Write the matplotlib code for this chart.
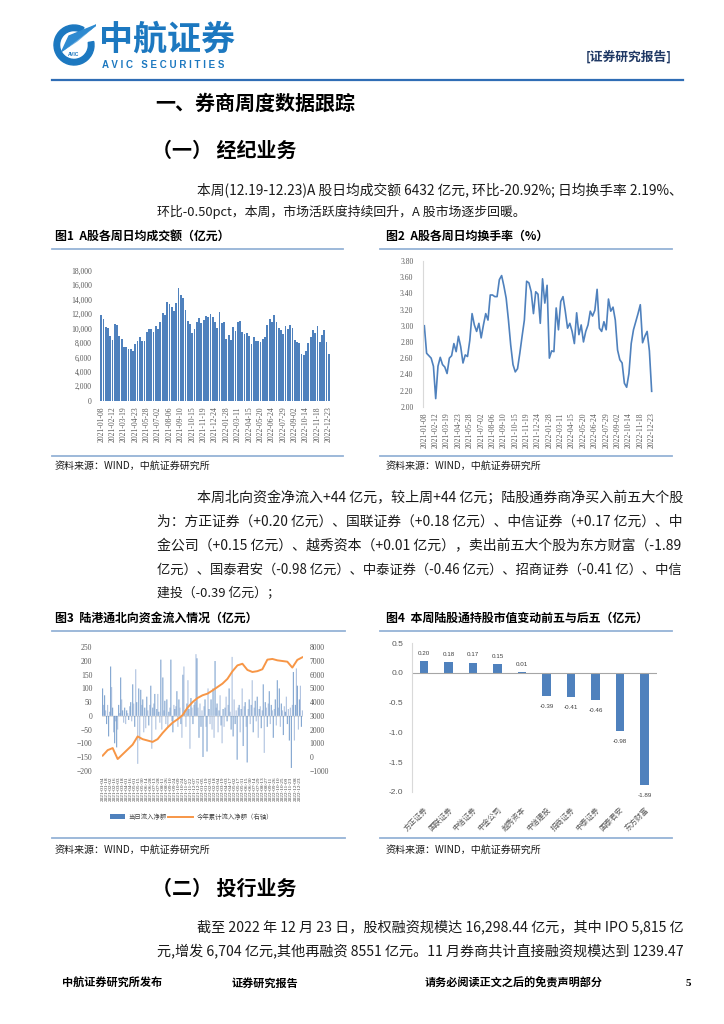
import matplotlib
matplotlib.use('Agg')
import matplotlib.pyplot as plt
import numpy as np
import pandas as pd
from matplotlib.lines import Line2D
from matplotlib.patches import Wedge, Polygon, Rectangle

W, H = 724, 1024
CJK = ['Noto Sans CJK SC', 'DejaVu Sans']
SERIF = ['Liberation Serif', 'DejaVu Serif']
SANS = ['Liberation Sans', 'DejaVu Sans']

# ---- data -------------------------------------------------------------
week_ticks = ['2021-01-08', '2021-02-12', '2021-03-19', '2021-04-23', '2021-05-28',
              '2021-07-02', '2021-08-06', '2021-09-10', '2021-10-15', '2021-11-19',
              '2021-12-24', '2022-01-28', '2022-03-11', '2022-04-15', '2022-05-20',
              '2022-06-24', '2022-07-29', '2022-09-02', '2022-10-14', '2022-11-18',
              '2022-12-23']

# fig 1: weekly average daily turnover (100m yuan)
turnover_amt = [11870, 11360, 10250, 10030, 8960, 8360, 10620, 10440, 9000, 8540,
                7440, 7440, 7120, 7200, 6880, 7900, 8270, 8780, 8310, 8310,
                9510, 9930, 9860, 9560, 10350, 9930, 10900, 12150, 11870, 13670,
                13440, 12980, 12420, 13490, 15570, 14600, 14220, 12560, 11080, 10620,
                9420, 9930, 10900, 11410, 10720, 11140, 11770, 11550, 12010, 11550,
                10860, 10070, 12290, 10720, 10940, 8500, 9060, 8410, 10170, 9650,
                10900, 11080, 9510, 9240, 9330, 8960, 7850, 8780, 8270, 8310,
                8090, 8500, 8780, 10480, 11270, 10900, 11870, 10900, 10030, 9790,
                9190, 10300, 9860, 10480, 10030, 8410, 8090, 7950, 6430, 6290,
                6880, 7950, 8820, 9750, 9420, 10350, 8130, 9100, 9790, 8133,
                6432]

# fig 2: weekly average daily turnover rate (%)
turnover_rate = [3.00, 2.66, 2.63, 2.60, 2.50, 2.10, 2.50, 2.61, 2.52, 2.49,
                 2.41, 2.60, 2.63, 2.78, 2.68, 2.87, 2.74, 2.54, 2.64, 2.62,
                 2.82, 3.15, 3.01, 2.93, 3.03, 2.85, 3.01, 3.15, 3.07, 3.38,
                 3.38, 3.36, 3.36, 3.57, 3.62, 3.49, 3.34, 3.07, 2.76, 2.52,
                 2.43, 2.47, 2.66, 2.87, 3.07, 3.55, 3.53, 3.42, 3.15, 3.42,
                 3.39, 3.03, 3.58, 3.28, 3.50, 2.60, 2.69, 2.68, 3.22, 2.95,
                 3.30, 3.36, 3.18, 2.97, 3.03, 2.93, 2.78, 3.16, 2.89, 3.01,
                 2.80, 2.93, 3.01, 3.18, 3.12, 3.19, 3.45, 2.97, 2.93, 3.05,
                 2.95, 3.33, 3.18, 3.23, 3.07, 2.70, 2.58, 2.54, 2.29, 2.24,
                 2.41, 2.78, 2.95, 3.05, 3.15, 3.26, 2.79, 2.87, 2.93, 2.69,
                 2.19]

# fig 3: northbound net inflow (left) and cumulative inflow (right)
flow_daily = [100, 40, 75, 20, -30, 40, -75, 15, 180, 105,
              30, -60, -100, -20, -115, -50, 40, 10, 140, 60,
              20, -25, 30, -30, 20, 10, -15, 35, 50, -20,
              115, 45, -40, 170, 50, -175, 100, -90, 95, 40,
              60, -60, 30, -45, 70, 20, -35, 40, 110, -120,
              30, 45, 80, -50, 25, 80, 15, -25, 205, -50,
              140, 20, 55, -30, 60, -40, 15, 30, 205, -20,
              -60, 40, 25, 35, 90, -40, 60, 30, -30, -80,
              150, 180, 20, -40, 45, 130, 25, -120, 65, 30,
              -30, 40, 50, 225, 210, 30, -80, 45, -40, 20,
              -150, 35, 60, -40, -130, 100, 25, -30, 60, -50,
              100, -80, 200, 30, 45, -60, 20, 75, -35, -100,
              25, -40, 30, 70, -20, 40, 100, 15, -50, 215,
              -75, 60, -30, 20, -160, 30, 40, -60, 25, 100,
              -110, 35, 50, -40, -170, 25, 60, -30, 40, 130,
              -60, 30, 55, -20, 70, -80, 25, 35, -45, 20,
              115, -135, 50, 30, -40, 45, 90, -30, 40, 20,
              -80, 25, 60, -35, 130, 30, 100, -40, 45, 20,
              -70, 35, 15, 70, -30, 25, -90, 30, -190, 40,
              160, -90, 40, 173, 110, -50, 60, 110, -40, 20]
flow_cum = [100, 500, 650, -150, 200, 550, 900, 1500, 1300, 1200,
            1100, 1300, 1750, 2150, 2500, 2750, 3050, 3600, 4000, 4300,
            4500, 4620, 4850, 5100, 5350, 5700, 6250, 6680, 6800, 6350,
            6200, 6260, 6400, 7100, 7150, 7050, 7000, 6950, 6520, 7080,
            7270]
flow_dates = list(pd.date_range('2021-01-04', '2022-12-23', periods=50).strftime('%Y-%m-%d'))

# fig 4: change of holdings value, top 5 / bottom 5 (100m yuan)
top_names = ['方正证券', '国联证券', '中信证券', '中金公司', '越秀资本',
             '中信建投', '招商证券', '中泰证券', '国泰君安', '东方财富']
top_values = [0.20, 0.18, 0.17, 0.15, 0.01, -0.39, -0.41, -0.46, -0.98, -1.89]

BLUE = '#4F81BD'
ORANGE = '#F79646'
TICK = '#595959'
BODY = 9.3


def fx(x):
    return x / W


def fy(y):
    return 1 - y / H


def box(x0, x1, y0, y1):
    return [fx(x0), fy(y1), (x1 - x0) / W, (y1 - y0) / H]


def hline(fig, x0, x1, y, color, lw):
    fig.add_artist(Line2D([fx(x0), fx(x1)], [fy(y), fy(y)], transform=fig.transFigure,
                          color=color, lw=lw))


def put(fig, x, y, s, size, weight='normal', color='#1a1a1a', ha='left', family=CJK):
    return fig.text(fx(x), fy(y), s, fontsize=size, fontweight=weight, color=color,
                    ha=ha, va='center', family=family)


def put_justified(fig, x0, x1, y, s, size):
    # stretch the font a little so a justified line reaches the right margin
    t = put(fig, x0, y, s, size)
    width = t.get_window_extent(fig.canvas.get_renderer()).width
    scale = min(max((x1 - x0) / width, 0.95), 1.12)
    t.set_fontsize(size * scale)
    return t


def main() -> None:
    fig = plt.figure(figsize=(7.24, 10.24), dpi=100)
    fig.patch.set_facecolor('white')

    # ---- header ----------------------------------------------------------
    lax = fig.add_axes(box(52, 96, 22, 68))
    lax.set_xlim(-1.1, 1.1)
    lax.set_ylim(-1.1, 1.1)
    lax.set_aspect('equal')
    lax.axis('off')
    lax.add_patch(Wedge((0, 0), 1.0, 60, 370, width=0.28, color='#1C78C0'))
    lax.add_patch(Polygon([(-0.6, -0.3), (1.1, 1.0), (0.15, 0.2)], color='#6FB0E2'))
    lax.add_patch(Polygon([(-0.6, -0.3), (1.1, 1.0), (-0.25, 0.45)], color='#2E8AD0'))
    lax.text(0.0, -0.5, 'AVIC', fontsize=3.5, color='#1C78C0', ha='center', va='center',
             fontweight='bold', family=SANS)

    put(fig, 99, 39, '中航证券', 24.5, 'bold', '#1C78C0')
    put(fig, 102, 65, 'A V I C   S E C U R I T I E S', 7.0, 'bold', '#1C78C0', family=SANS)
    put(fig, 672, 57, '[证券研究报告]', 9.2, 'bold', '#1F3864', ha='right')
    hline(fig, 52, 683, 80, '#2F6DB5', 1.6)

    put(fig, 155, 103, '一、券商周度数据跟踪', 14.4, 'bold', 'black')
    put(fig, 152, 150, '（一） 经纪业务', 14.4, 'bold', 'black')
    put_justified(fig, 197, 683, 190, '本周(12.19-12.23)A 股日均成交额 6432 亿元, 环比-20.92%; 日均换手率 2.19%、', BODY)
    put(fig, 157, 212, '环比-0.50pct，本周，市场活跃度持续回升，A 股市场逐步回暖。', BODY)

    # ---- chart titles / rules ---------------------------------------------
    put(fig, 55, 236, '图1  A股各周日均成交额（亿元）', 8.6, 'bold', 'black')
    put(fig, 386, 236, '图2  A股各周日均换手率（%）', 8.6, 'bold', 'black')
    for x0, x1 in [(52, 343), (380, 672)]:
        hline(fig, x0, x1, 249, '#95B3D7', 1.3)
        hline(fig, x0, x1, 456, '#95B3D7', 1.3)
    put(fig, 55, 466, '资料来源：WIND，中航证券研究所', 7.2)
    put(fig, 386, 466, '资料来源：WIND，中航证券研究所', 7.2)

    pos = np.arange(len(turnover_amt))
    tick_pos = np.arange(0, len(turnover_amt), 5)

    # fig 1
    ax1 = fig.add_axes(box(100, 330, 270.7, 400.7))
    ax1.bar(pos, turnover_amt, width=0.78, color=BLUE, linewidth=0)
    ax1.set_xlim(-0.5, len(pos) - 0.5)
    ax1.set_ylim(0, 18000)
    ax1.set_yticks(range(0, 18001, 2000))
    ax1.set_yticklabels([f'{v:,}' for v in range(0, 18001, 2000)])
    ax1.set_xticks(tick_pos)
    ax1.set_xticklabels(week_ticks, rotation=90)
    ax1.tick_params(length=0, labelsize=5.5, labelcolor=TICK)
    ax1.tick_params(axis='y', pad=6)
    ax1.tick_params(axis='x', pad=4)
    for lab in ax1.get_xticklabels() + ax1.get_yticklabels():
        lab.set_family(SERIF)
    for s in ax1.spines.values():
        s.set_visible(False)

    # fig 2
    ax2 = fig.add_axes(box(423.2, 652.8, 261, 406.7))
    ax2.plot(pos, turnover_rate, color=BLUE, lw=1.2)
    ax2.set_xlim(-0.5, len(pos) - 0.5)
    ax2.set_ylim(2.0, 3.8)
    ax2.set_yticks(np.arange(2.0, 3.81, 0.2))
    ax2.set_yticklabels([f'{v:.2f}' for v in np.arange(2.0, 3.81, 0.2)])
    ax2.set_xticks(tick_pos)
    ax2.set_xticklabels(week_ticks, rotation=90)
    ax2.tick_params(length=0, labelsize=5.5, labelcolor=TICK)
    ax2.tick_params(axis='y', pad=7)
    ax2.tick_params(axis='x', pad=4)
    for lab in ax2.get_xticklabels() + ax2.get_yticklabels():
        lab.set_family(SERIF)
    for name, s in ax2.spines.items():
        s.set_visible(name == 'left')
    ax2.spines['left'].set_color('#D9D9D9')
    ax2.spines['left'].set_linewidth(0.8)

    # ---- second paragraph -------------------------------------------------
    para = ['本周北向资金净流入+44 亿元，较上周+44 亿元；陆股通券商净买入前五大个股',
            '为：方正证券（+0.20 亿元）、国联证券（+0.18 亿元）、中信证券（+0.17 亿元）、中',
            '金公司（+0.15 亿元）、越秀资本（+0.01 亿元），卖出前五大个股为东方财富（-1.89',
            '亿元）、国泰君安（-0.98 亿元）、中泰证券（-0.46 亿元）、招商证券（-0.41 亿）、中信']
    for k, line in enumerate(para):
        put_justified(fig, 197 if k == 0 else 157, 683, 498 + 24 * k, line, BODY)
    put(fig, 157, 594, '建投（-0.39 亿元）；', BODY)

    put(fig, 55, 618, '图3  陆港通北向资金流入情况（亿元）', 8.6, 'bold', 'black')
    put(fig, 386, 618, '图4  本周陆股通持股市值变动前五与后五（亿元）', 8.6, 'bold', 'black')
    for x0, x1 in [(52, 345), (380, 672)]:
        hline(fig, x0, x1, 631, '#95B3D7', 1.3)
        hline(fig, x0, x1, 838, '#95B3D7', 1.3)
    put(fig, 55, 850, '资料来源：WIND，中航证券研究所', 7.2)
    put(fig, 386, 850, '资料来源：WIND，中航证券研究所', 7.2)

    # fig 3
    fpos = np.arange(len(flow_daily))
    ax3 = fig.add_axes(box(102.2, 302.8, 647.3, 770.7))
    colors = [BLUE if k % 2 == 0 else '#8FAAD3' for k in fpos]
    ax3.bar(fpos, flow_daily, width=0.8, color=colors, linewidth=0, snap=False)
    ax3.axhline(0, color='#D9D9D9', lw=0.6, zorder=0)
    ax3.set_xlim(-0.5, len(fpos) - 0.5)
    ax3.set_ylim(-200, 250)
    ax3.set_yticks(range(-200, 251, 50))
    ax3.set_xticks(np.arange(0, len(fpos), 4))
    ax3.set_xticklabels(flow_dates, rotation=90)
    ax3.tick_params(length=0, labelsize=5.5, labelcolor=TICK)
    ax3.tick_params(axis='y', pad=7)
    ax3.tick_params(axis='x', labelsize=3.8, pad=4, labelcolor='#404040')
    ax3b = ax3.twinx()
    ax3b.plot(np.linspace(0, len(fpos) - 1, len(flow_cum)), flow_cum, color=ORANGE, lw=1.4)
    ax3b.set_ylim(-1000, 8000)
    ax3b.set_yticks(range(-1000, 8001, 1000))
    ax3b.tick_params(length=0, labelsize=5.5, labelcolor=TICK, pad=5)
    for a in (ax3, ax3b):
        for s in a.spines.values():
            s.set_visible(False)
        for lab in a.get_xticklabels() + a.get_yticklabels():
            lab.set_family(SERIF)
    fig.add_artist(Rectangle((fx(110), fy(819)), 15 / W, 5 / H, transform=fig.transFigure,
                             color=BLUE, lw=0))
    put(fig, 128, 816.5, '当日流入净额', 4.6, color='#404040')
    hline(fig, 168, 193, 816.5, ORANGE, 1.4)
    put(fig, 197, 816.5, '今年累计流入净额（右轴）', 4.6, color='#404040')

    # fig 4
    ax4 = fig.add_axes(box(411.7, 656.7, 643.3, 791.7))
    cpos = np.arange(len(top_values))
    ax4.bar(cpos, top_values, width=0.34, color=BLUE, linewidth=0)
    ax4.axhline(0, color='#A6A6A6', lw=0.8)
    for i, v in zip(cpos, top_values):
        if v >= 0:
            ax4.text(i, v + 0.135, f'{v:.2f}', ha='center', va='center', fontsize=4.5,
                     color='#404040', family=SANS)
        else:
            ax4.text(i, v - 0.17, f'{v:.2f}', ha='center', va='center', fontsize=4.5,
                     color='#404040', family=SANS)
    ax4.set_xlim(-0.5, len(cpos) - 0.5)
    ax4.set_ylim(-2.0, 0.5)
    ax4.set_yticks(np.arange(-2.0, 0.51, 0.5))
    ax4.set_yticklabels([f'{v:.1f}' for v in np.arange(-2.0, 0.51, 0.5)])
    ax4.set_xticks(cpos)
    ax4.set_xticklabels(top_names, rotation=45, ha='right', rotation_mode='anchor')
    ax4.tick_params(length=0, labelsize=6, labelcolor=TICK)
    ax4.tick_params(axis='y', pad=6)
    ax4.tick_params(axis='x', labelsize=5.4, pad=10)
    for lab in ax4.get_yticklabels():
        lab.set_family(SANS)
    for lab in ax4.get_xticklabels():
        lab.set_family(CJK)
    for name, s in ax4.spines.items():
        s.set_visible(name == 'left')
    ax4.spines['left'].set_color('#D9D9D9')
    ax4.spines['left'].set_linewidth(0.8)

    # ---- section 2 ------------------------------------------------------
    put(fig, 152, 888, '（二） 投行业务', 14.4, 'bold', 'black')
    put_justified(fig, 197, 683, 927, '截至 2022 年 12 月 23 日，股权融资规模达 16,298.44 亿元，其中 IPO 5,815 亿', BODY)
    put_justified(fig, 157, 683, 951, '元,增发 6,704 亿元,其他再融资 8551 亿元。11 月券商共计直接融资规模达到 1239.47', BODY)

    # ---- footer -------------------------------------------------------
    put(fig, 62, 983, '中航证券研究所发布', 8, 'bold', 'black')
    put(fig, 232, 983, '证券研究报告', 8, 'bold', 'black')
    put(fig, 425, 983, '请务必阅读正文之后的免责声明部分', 8, 'bold', 'black')
    put(fig, 686, 984, '5', 8, 'bold', 'black', family=SERIF)

    fig.savefig('out.png', dpi=100)
    plt.close(fig)


if __name__ == '__main__':
    main()
